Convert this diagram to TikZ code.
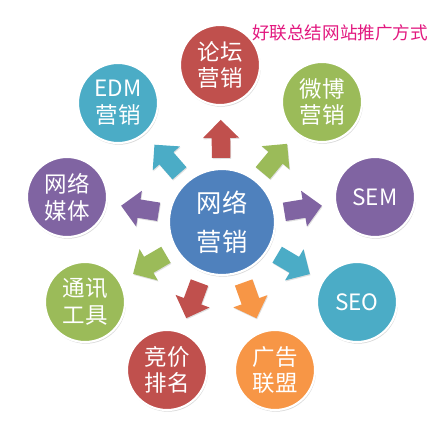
\documentclass[tikz,border=0pt]{standalone}
\usepackage{fontspec}
\newfontfamily\cjk{Noto Sans CJK SC}
\usetikzlibrary{shapes.arrows, shadows}

\definecolor{tred}{HTML}{C0504D}
\definecolor{tteal}{HTML}{4BACC6}
\definecolor{tgreen}{HTML}{9BBB59}
\definecolor{tpurple}{HTML}{8064A2}
\definecolor{tblue}{HTML}{4F81BD}
\definecolor{torange}{HTML}{F79646}
\definecolor{tpink}{HTML}{E2187F}

\tikzset{
	bubble/.style = {circle, draw = white, line width = 1.5pt, minimum size = 2cm, inner sep = 0pt,
		text = white, align = center, font = \cjk\fontsize{16}{19}\selectfont,
		drop shadow = {opacity = 0.3, shadow xshift = 0.6pt, shadow yshift = -1.2pt}},
	push/.style = {single arrow, minimum height = 0.95cm, text height = 0.45cm, text depth = 0pt,
		single arrow head extend = 0.22cm, inner sep = 0pt, midway, sloped, allow upside down,
		drop shadow = {opacity = 0.25, shadow xshift = 0.5pt, shadow yshift = -0.8pt}}
}

\begin{document}
\begin{tikzpicture}[x = 0.025cm, y = -0.025cm]

	\useasboundingbox (0, 0) rectangle (440, 440);

	% Title

	\node [font = \cjk\fontsize{12.5}{13}\selectfont, text = tpink] (title) at (340, 33) {好联总结网站推广方式};

	% Centre

	\node [bubble, fill = tblue, minimum size = 2.65cm, font = \cjk\fontsize{18}{28}\selectfont] (net) at (222, 222) {网络\\营销};

	% Ring

	\node [bubble, fill = tred] (forum) at (220, 65) {论坛\\营销};
	\node [bubble, fill = tteal] (edm) at (118, 103) {EDM\\营销};
	\node [bubble, fill = tgreen] (weibo) at (322, 102) {微博\\营销};
	\node [bubble, fill = tpurple] (media) at (67, 197) {网络\\媒体};
	\node [bubble, fill = tpurple] (sem) at (375, 197) {SEM};
	\node [bubble, fill = tgreen] (im) at (85, 302) {通讯\\工具};
	\node [bubble, fill = tteal] (seo) at (357, 302) {SEO};
	\node [bubble, fill = tred] (bid) at (167, 370) {竞价\\排名};
	\node [bubble, fill = torange] (ads) at (275, 370) {广告\\联盟};

	% Arrows

	\path (net.center) -- (forum.center) node [push, fill = tred] (toforum) {};
	\path (net.center) -- (edm.center) node [push, fill = tteal] (toedm) {};
	\path (net.center) -- (weibo.center) node [push, fill = tgreen] (toweibo) {};
	\path (net.center) -- (media.center) node [push, fill = tpurple] (tomedia) {};
	\path (net.center) -- (sem.center) node [push, fill = tpurple] (tosem) {};
	\path (net.center) -- (im.center) node [push, fill = tgreen] (toim) {};
	\path (net.center) -- (seo.center) node [push, fill = tteal] (toseo) {};
	\path (net.center) -- (bid.center) node [push, fill = tred] (tobid) {};
	\path (net.center) -- (ads.center) node [push, fill = torange] (toads) {};

\end{tikzpicture}
\end{document}
